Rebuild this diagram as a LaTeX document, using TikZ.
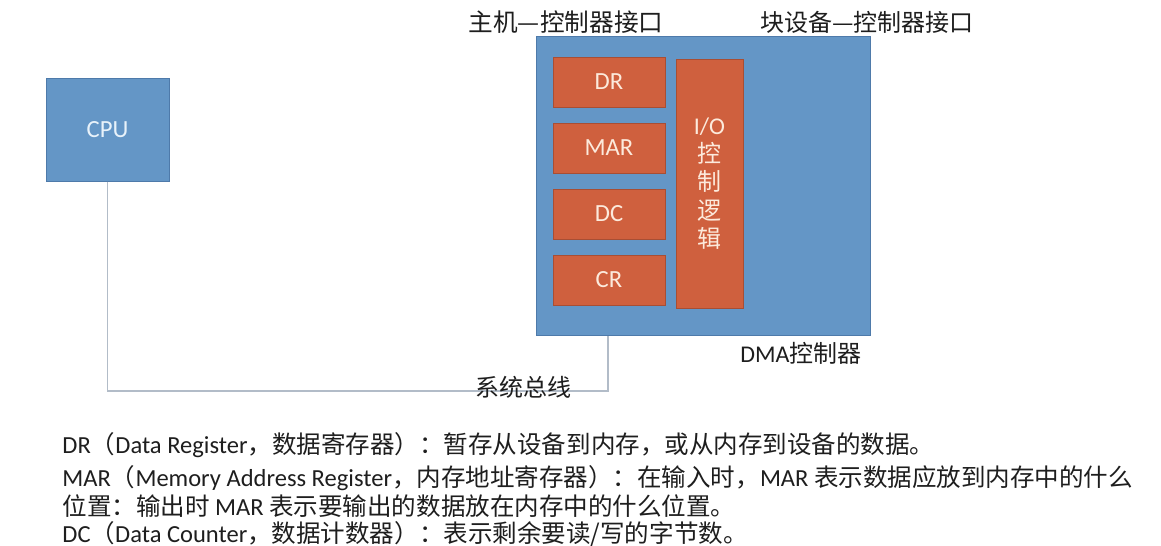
\documentclass[tikz,border=0pt]{standalone}
\usepackage{fontspec}
\setmainfont{Carlito}
\newfontfamily\cjk{Noto Sans CJK SC}

\definecolor{dmablue}{RGB}{100,150,198}
\definecolor{dmablueline}{RGB}{78,122,170}
\definecolor{regred}{RGB}{207,96,62}
\definecolor{regredline}{RGB}{168,78,52}
\definecolor{regtext}{RGB}{252,234,220}
\definecolor{cputext}{RGB}{232,242,250}
\definecolor{busgray}{RGB}{178,188,200}
\definecolor{labelgray}{RGB}{30,30,30}

\tikzset{every picture/.style={line width=0.75pt},
	bluebox/.style={draw=dmablueline, fill=dmablue, inner sep=0pt},
	regbox/.style={draw=regredline, fill=regred, text=regtext, minimum width=84pt, minimum height=37.5pt, inner sep=0pt, font=\fontsize{18.5}{22}\selectfont},
	buswire/.style={draw=busgray, line width=1.2pt},
	lbl/.style={text=labelgray, inner sep=0pt, font=\fontsize{18}{22}\selectfont\cjk},
	note/.style={anchor=base west, inner sep=0pt, text=labelgray, font=\fontsize{18.4}{22}\selectfont}}

\begin{document}
\begin{tikzpicture}[x=0.75pt,y=0.75pt,yscale=-1]
	\useasboundingbox (0,0) rectangle (1161,546);
	\fill[white] (0,0) rectangle (1161,546);

	%Shape: Rectangle [cpu]
	\node[bluebox, minimum width=92.25pt, minimum height=77.25pt, text=cputext, font=\fontsize{18.5}{22}\selectfont] (cpu) at (107.5,129.5) {CPU};
	%Shape: Rectangle [dma controller]
	\node[bluebox, minimum width=250.5pt, minimum height=224.25pt] (dma) at (703,185.5) {};
	%Shape: Rectangle [registers]
	\node[regbox] (dr) at (609,82) {DR};
	\node[regbox] (mar) at (609,148) {MAR};
	\node[regbox] (dc) at (609,214) {DC};
	\node[regbox] (cr) at (609,280) {CR};
	%Shape: Rectangle [io logic]
	\node[regbox, minimum width=50.25pt, minimum height=186.75pt, align=center, font=\fontsize{18}{21.2}\selectfont] (iologic) at (709.5,183.5) {I/O\\{\cjk 控}\\{\cjk 制}\\{\cjk 逻}\\{\cjk 辑}};

	%Straight Lines [system bus]
	\coordinate (busbend) at (608,391);
	\draw[buswire] (cpu.south) |- (busbend) -- (busbend |- dma.south);

	% Text Node
	\node[lbl, font=\fontsize{18.5}{22}\selectfont\cjk] (hostif) at (566,22) {主机—控制器接口};
	% Text Node
	\node[lbl] (devif) at (867,22) {块设备—控制器接口};
	% Text Node
	\node[lbl, font=\fontsize{18}{22}\selectfont] (dmaname) at (801,353) {DMA{\cjk 控制器}};
	% Text Node
	\node[lbl] (busname) at (523,387) {系统总线};

	% Text Node
	\node[note] (drnote) at (62,453) {DR{\cjk （}Data Register{\cjk ，数据寄存器）：暂存从设备到内存，或从内存到设备的数据。}};
	% Text Node
	\node[note] (marnote) at (62,486) {MAR{\cjk （}Memory Address Register{\cjk ，内存地址寄存器）：在输入时，}MAR {\cjk 表示数据应放到内存中的什么}};
	% Text Node
	\node[note] (marnote2) at (62,515) {{\cjk 位置：输出时} MAR {\cjk 表示要输出的数据放在内存中的什么位置。}};
	% Text Node
	\node[note] (dcnote) at (62,542) {DC{\cjk （}Data Counter{\cjk ，数据计数器）：表示剩余要读/写的字节数。}};

\end{tikzpicture}
\end{document}
